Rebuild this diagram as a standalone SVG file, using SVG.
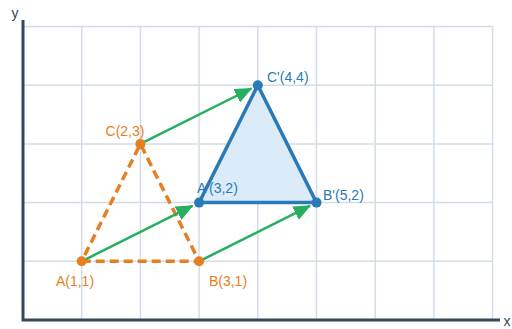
<svg xmlns="http://www.w3.org/2000/svg" width="512" height="329" viewBox="0 0 512 329">
<style>
.grid{stroke:#d3dce7;stroke-width:1.5;fill:none}
.axis{stroke:#34495e;stroke-width:3;fill:none}
.lbl{font-family:"Liberation Sans",Arial,sans-serif;font-size:14px}
.orange{fill:#e67e22}
.blue{fill:#2a7ab8}
.vec{stroke:#27ae60;stroke-width:2.5;fill:none;marker-end:url(#ah)}
</style>
<defs>
<marker id="ah" markerWidth="7" markerHeight="6" refX="6.5" refY="3" orient="auto" markerUnits="strokeWidth">
<path d="M0,0 L7,3 L0,6 Z" fill="#27ae60"/>
</marker>
</defs>
<rect width="512" height="329" fill="#fff"/>
<g id="grid" class="grid">
<path d="M81.7,26.5V320M140.4,26.5V320M199.1,26.5V320M257.8,26.5V320M316.5,26.5V320M375.2,26.5V320M433.9,26.5V320M492.6,26.5V320"/>
<path d="M23,26.5H492.6M23,85.2H492.6M23,143.9H492.6M23,202.6H492.6M23,261.3H492.6"/>
</g>
<g id="axes">
<path class="axis" d="M23,20V320H500"/>
<text class="lbl" x="15" y="18" text-anchor="middle" fill="#34495e">y</text>
<text class="lbl" x="503.5" y="326" fill="#34495e">x</text>
</g>
<g id="triangle-ABC">
<path d="M81.7,261.3L199.1,261.3L140.4,143.9Z" fill="none" stroke="#e67e22" stroke-width="3.5" stroke-dasharray="9,5"/>
</g>
<g id="triangle-prime">
<path d="M199.1,202.6L316.5,202.6L257.8,85.2Z" fill="#dcebf8" stroke="#2a7ab8" stroke-width="3.5" stroke-linejoin="round"/>
</g>
<g id="connectors">
<path class="vec" d="M81.7,261.3L192.5,205.9"/>
<path class="vec" d="M199.1,261.3L309.9,205.9"/>
<path class="vec" d="M140.4,143.9L251.2,88.5"/>
</g>
<g id="A">
<circle cx="81.7" cy="261.3" r="5" fill="#e67e22"/>
<text class="lbl orange" x="75" y="286" text-anchor="middle">A(1,1)</text>
</g>
<g id="B">
<circle cx="199.1" cy="261.3" r="5" fill="#e67e22"/>
<text class="lbl orange" x="228" y="286" text-anchor="middle">B(3,1)</text>
</g>
<g id="C">
<circle cx="140.4" cy="143.9" r="5" fill="#e67e22"/>
<text class="lbl orange" x="125" y="136" text-anchor="middle">C(2,3)</text>
</g>
<g id="A-prime">
<circle cx="199.1" cy="202.6" r="5" fill="#2a7ab8"/>
<text class="lbl blue" x="197" y="193">A'(3,2)</text>
</g>
<g id="B-prime">
<circle cx="316.5" cy="202.6" r="5" fill="#2a7ab8"/>
<text class="lbl blue" x="323" y="200">B'(5,2)</text>
</g>
<g id="C-prime">
<circle cx="257.8" cy="85.2" r="5" fill="#2a7ab8"/>
<text class="lbl blue" x="267" y="82">C'(4,4)</text>
</g>
</svg>
